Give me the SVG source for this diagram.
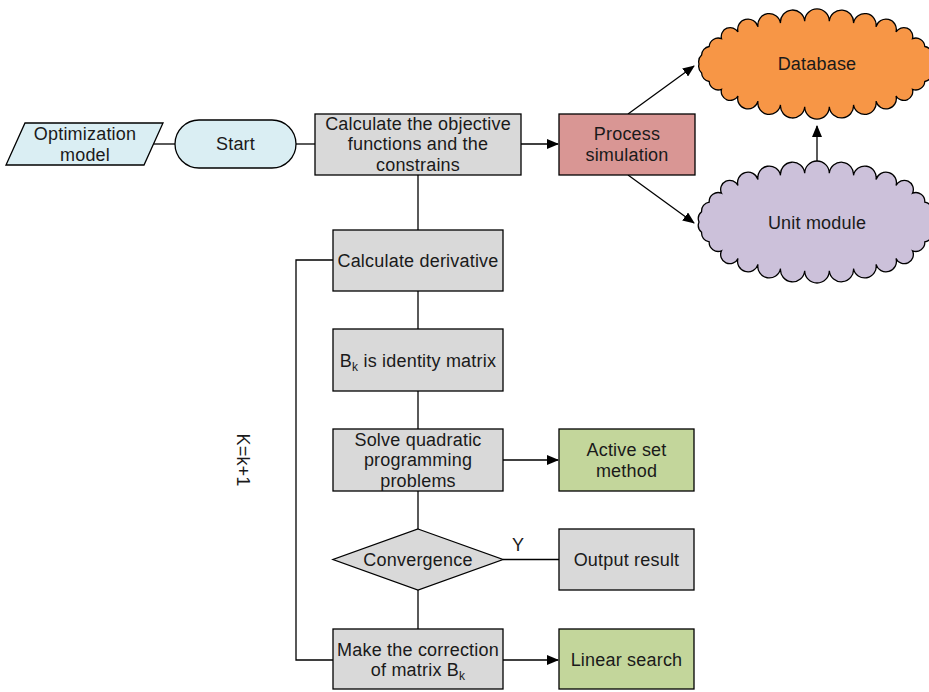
<svg xmlns="http://www.w3.org/2000/svg" width="929" height="692" viewBox="0 0 929 692">
<style>
.n{stroke:#000;stroke-width:1.3}
.g{fill:#d9d9d9}
.b{fill:#daeef3}
.gr{fill:#c3d69b}
.t{font-family:"Liberation Sans",Arial,sans-serif;font-size:18px;letter-spacing:0.2px;fill:#1a1a1a;text-anchor:middle}
.c{fill:none;stroke:#000;stroke-width:1.3}
</style>
<defs>
<marker id="ah" markerWidth="12" markerHeight="10" refX="11" refY="5" orient="auto" markerUnits="userSpaceOnUse">
<path d="M0,0 L12,5 L0,10 z" fill="#000"/>
</marker>
</defs>
<g id="connectors">
<line class="c" x1="154" y1="144" x2="175" y2="144"/>
<line class="c" x1="296" y1="144" x2="316" y2="144"/>
<line class="c" x1="521" y1="144" x2="558" y2="144" marker-end="url(#ah)"/>
<line class="c" x1="628" y1="114" x2="694" y2="66" marker-end="url(#ah)"/>
<line class="c" x1="628" y1="175" x2="694" y2="223" marker-end="url(#ah)"/>
<line class="c" x1="817" y1="161" x2="817" y2="126" marker-end="url(#ah)"/>
<line class="c" x1="418" y1="175" x2="418" y2="230"/>
<line class="c" x1="418" y1="291" x2="418" y2="329"/>
<line class="c" x1="418" y1="391" x2="418" y2="429"/>
<line class="c" x1="418" y1="491" x2="418" y2="529"/>
<line class="c" x1="418" y1="590" x2="418" y2="629"/>
<line class="c" x1="503" y1="460" x2="558" y2="460" marker-end="url(#ah)"/>
<line class="c" x1="503" y1="559.5" x2="559" y2="559.5"/>
<line class="c" x1="503" y1="660" x2="558" y2="660" marker-end="url(#ah)"/>
<polyline class="c" points="333,260 296,260 296,660 333,660"/>
<text class="t" x="518" y="551">Y</text>
<text class="t" transform="translate(237,460) rotate(90)">K=k+1</text>
</g>
<g id="opt-model">
<polygon class="n b" points="25,123 163,123 144,165 6,165"/>
<text class="t" x="85" y="140">Optimization</text>
<text class="t" x="85" y="161">model</text>
</g>
<g id="start">
<rect class="n b" x="175" y="120" width="121" height="48" rx="24"/>
<text class="t" x="235.5" y="150">Start</text>
</g>
<g id="calc-obj">
<rect class="n g" x="315" y="114" width="206" height="61"/>
<text class="t" x="418" y="130">Calculate the objective</text>
<text class="t" x="418" y="150">functions and the</text>
<text class="t" x="418" y="171">constrains</text>
</g>
<g id="process-sim">
<rect class="n" fill="#d99694" x="559" y="114" width="136" height="61"/>
<text class="t" x="627" y="140">Process</text>
<text class="t" x="627" y="161">simulation</text>
</g>
<g id="database">
<path class="n" fill="#f79646" d="M935,64 A9,9 0 0 0 932.4,55.1 A9,9 0 0 0 924.8,46.5 A9,9 0 0 0 912.5,38.7 A9,9 0 0 0 896,32 A9,9 0 0 0 876,26.8 A9,9 0 0 0 853.5,23.1 A9,9 0 0 0 829.3,21.2 A9,9 0 0 0 804.7,21.2 A9,9 0 0 0 780.5,23.1 A9,9 0 0 0 758,26.8 A9,9 0 0 0 738,32 A9,9 0 0 0 721.5,38.7 A9,9 0 0 0 709.2,46.5 A9,9 0 0 0 701.6,55.1 A9,9 0 0 0 699,64 A9,9 0 0 0 701.6,72.9 A9,9 0 0 0 709.2,81.5 A9,9 0 0 0 721.5,89.3 A9,9 0 0 0 738,96 A9,9 0 0 0 758,101.2 A9,9 0 0 0 780.5,104.9 A9,9 0 0 0 804.7,106.8 A9,9 0 0 0 829.3,106.8 A9,9 0 0 0 853.5,104.9 A9,9 0 0 0 876,101.2 A9,9 0 0 0 896,96 A9,9 0 0 0 912.5,89.3 A9,9 0 0 0 924.8,81.5 A9,9 0 0 0 932.4,72.9 A9,9 0 0 0 935,64 Z"/>
<text class="t" x="817" y="70">Database</text>
</g>
<g id="unit-module">
<path class="n" fill="#ccc1da" d="M935,222 A9,9 0 0 0 932.4,211.8 A9,9 0 0 0 924.8,202.1 A9,9 0 0 0 912.5,193.2 A9,9 0 0 0 896,185.6 A9,9 0 0 0 876,179.6 A9,9 0 0 0 853.5,175.4 A9,9 0 0 0 829.3,173.3 A9,9 0 0 0 804.7,173.3 A9,9 0 0 0 780.5,175.4 A9,9 0 0 0 758,179.6 A9,9 0 0 0 738,185.6 A9,9 0 0 0 721.5,193.2 A9,9 0 0 0 709.2,202.1 A9,9 0 0 0 701.6,211.8 A9,9 0 0 0 699,222 A9,9 0 0 0 701.6,232.2 A9,9 0 0 0 709.2,241.9 A9,9 0 0 0 721.5,250.8 A9,9 0 0 0 738,258.4 A9,9 0 0 0 758,264.4 A9,9 0 0 0 780.5,268.6 A9,9 0 0 0 804.7,270.7 A9,9 0 0 0 829.3,270.7 A9,9 0 0 0 853.5,268.6 A9,9 0 0 0 876,264.4 A9,9 0 0 0 896,258.4 A9,9 0 0 0 912.5,250.8 A9,9 0 0 0 924.8,241.9 A9,9 0 0 0 932.4,232.2 A9,9 0 0 0 935,222 Z"/>
<text class="t" x="817" y="229">Unit module</text>
</g>
<g id="calc-derivative">
<rect class="n g" x="333" y="230" width="170" height="61"/>
<text class="t" x="418" y="267">Calculate derivative</text>
</g>
<g id="bk-identity">
<rect class="n g" x="333" y="329" width="170" height="62"/>
<text class="t" x="418" y="367">B<tspan font-size="12" dy="4">k</tspan><tspan dy="-4"> is identity matrix</tspan></text>
</g>
<g id="solve-qp">
<rect class="n g" x="333" y="429" width="170" height="62"/>
<text class="t" x="418" y="446">Solve quadratic</text>
<text class="t" x="418" y="466">programming</text>
<text class="t" x="418" y="487">problems</text>
</g>
<g id="active-set">
<rect class="n gr" x="559" y="429" width="135" height="62"/>
<text class="t" x="626.5" y="456">Active set</text>
<text class="t" x="626.5" y="477">method</text>
</g>
<g id="convergence">
<polygon class="n g" points="418,529 503,559.5 418,590 333,559.5"/>
<text class="t" x="418" y="566">Convergence</text>
</g>
<g id="output-result">
<rect class="n g" x="559" y="529" width="135" height="61"/>
<text class="t" x="626.5" y="566">Output result</text>
</g>
<g id="correction">
<rect class="n g" x="333" y="629" width="170" height="60"/>
<text class="t" x="418" y="656">Make the correction</text>
<text class="t" x="418" y="676">of matrix B<tspan font-size="12" dy="4">k</tspan></text>
</g>
<g id="linear-search">
<rect class="n gr" x="559" y="629" width="135" height="60"/>
<text class="t" x="626.5" y="666">Linear search</text>
</g>
</svg>
